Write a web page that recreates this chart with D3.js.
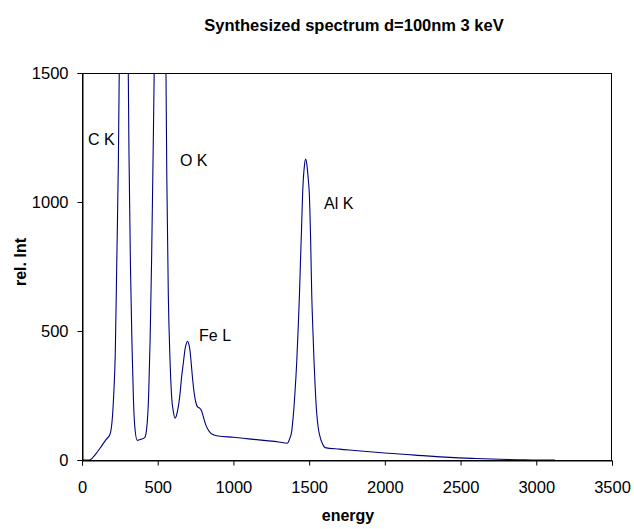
<!DOCTYPE html>
<html><head><meta charset="utf-8">
<script src="https://cdn.jsdelivr.net/npm/d3@7"></script>
<style>body{margin:0;background:#fff}svg{display:block}text{font-family:"Liberation Sans",Arial,sans-serif}</style>
</head><body><svg id="c" width="634" height="529"></svg>
<script>
const energy = [0,50,75,100,130,160,185,200,210,220,230,240,250,260,270,280,290,300,310,320,330,340,350,365,390,415,430,440,450,460,470,480,490,500,510,520,530,540,550,560,570,580,592,604,614,625,636,648,658,670,680,690,698,706,713,722,731,742,753,765,779,790,801,815,834,850,872,900,1000,1100,1200,1300,1356,1370,1385,1395,1406,1418,1428,1436,1443,1450,1457,1468,1477,1486,1494,1501,1510,1517,1525,1532,1540,1550,1560,1572,1588,1605,1700,1800,2000,2200,2430,2600,2760,2900,3000,3124];
const intensity = [0,0,12,30,55,80,100,160,260,420,780,1150,1750,2300,2650,2700,2450,1900,1200,750,450,230,120,76,80,88,140,250,470,790,1200,1650,2200,2700,3050,3150,2950,2500,1850,1100,640,410,245,185,162,175,207,260,323,380,428,453,460,448,425,370,310,255,220,205,200,190,168,140,116,104,97,93,88,82,76,70,65,80,112,170,258,380,516,640,775,900,1033,1136,1166,1140,1090,1034,850,645,500,387,280,181,125,90,63,48,42,37,27,19,10,6,3,1,0,0];
const xTicks = [0,500,1000,1500,2000,2500,3000,3500];
const yTicks = [0,500,1000,1500];
const labels = [{t:"C K",e:40,v:1220},{t:"O K",e:647,v:1139},{t:"Fe L",e:773,v:461},{t:"Al K",e:1598,v:972}];
const title = "Synthesized spectrum d=100nm 3 keV";

const svg = d3.select("#c");
const L=82,R=612,T=73,B=460;
const x = d3.scaleLinear().domain([0,3500]).range([L,R]);
const y = d3.scaleLinear().domain([0,1500]).range([B,T]);

svg.append("defs").append("clipPath").attr("id","clip").append("rect")
  .attr("x",L).attr("y",T).attr("width",R-L).attr("height",B-T);

svg.append("rect").attr("x",L+0.5).attr("y",T+0.5).attr("width",R-L-1).attr("height",B-T).attr("fill","none").attr("stroke","#000").attr("stroke-width",1);

const data = energy.map((e,i)=>[e,intensity[i]]);
svg.append("path").datum(data).attr("clip-path","url(#clip)")
  .attr("fill","none").attr("stroke","#000080").attr("stroke-width",1.1)
  .attr("d", d3.line().x(d=>x(d[0])).y(d=>y(d[1])).curve(d3.curveMonotoneX));

const xa = svg.append("g").attr("transform",`translate(0,${B+0.5})`)
  .call(d3.axisBottom(x).tickValues(xTicks).tickSize(5).tickPadding(16).tickFormat(d3.format("d")));
const ya = svg.append("g").attr("transform",`translate(${L+0.5},0)`)
  .call(d3.axisLeft(y).tickValues(yTicks).tickSize(5).tickPadding(9).tickFormat(d3.format("d")));
[xa,ya].forEach(a=>{a.select(".domain").attr("stroke","#000");a.selectAll("line").attr("stroke","#000");
  a.selectAll("text").attr("font-size",16.5).attr("fill","#000").style("font-family","Liberation Sans, Arial, sans-serif");});

svg.append("text").attr("x",354).attr("y",31).attr("text-anchor","middle").attr("font-size",16.5).attr("font-weight","bold").text(title);
svg.append("text").attr("x",348).attr("y",521).attr("text-anchor","middle").attr("font-size",16).attr("font-weight","bold").text("energy");
svg.append("text").attr("transform","translate(25.5,262) rotate(-90)").attr("text-anchor","middle").attr("font-size",16).attr("font-weight","bold").text("rel. Int");

svg.selectAll(".lbl").data(labels).join("text").attr("class","lbl")
  .attr("x",d=>x(d.e)).attr("y",d=>y(d.v)).attr("font-size",16).text(d=>d.t);
</script></body></html>
